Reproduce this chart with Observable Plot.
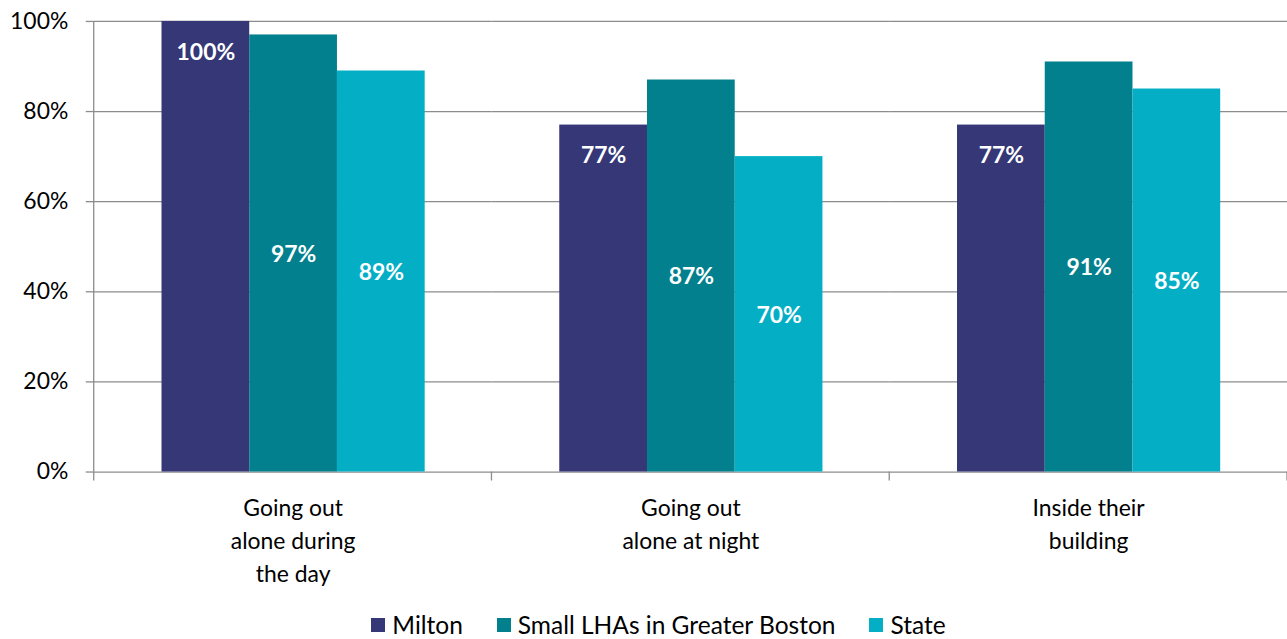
<!DOCTYPE html>
<html><head><meta charset="utf-8">
<script src="https://cdn.jsdelivr.net/npm/d3@7"></script>
<script src="https://cdn.jsdelivr.net/npm/@observablehq/plot@0.6"></script>
<style>
html,body{margin:0;padding:0;background:#fff;overflow:hidden;font-family:Lato,"Open Sans",sans-serif;}
#legend{display:flex;justify-content:center;align-items:center;font-size:24.5px;line-height:22px;height:22px;padding-top:4px;color:#000;margin-left:30px;}
.item{display:flex;align-items:center;margin:0 17px;}
.sw{width:14px;height:14px;margin-right:7px;display:inline-block;}
</style></head><body><div id="chart"></div><div id="legend"></div>
<script>
const categories = ["Going out alone during the day","Going out alone at night","Inside their building"];
const categoryLabels = ["Going out\nalone during\nthe day","Going out\nalone at night","Inside their\nbuilding"];
const series = ["Milton","Small LHAs in Greater Boston","State"];
const colors = ["#353776","#02808E","#04AFC6"];
const milton = [100,77,77];
const smallLHAs = [97,87,91];
const state = [89,70,85];
const yTicks = [0,20,40,60,80,100];

const seriesValues = [milton, smallLHAs, state];
const rows = categories.flatMap((c,i)=> series.map((s,j)=>({category:c, series:s, value:seriesValues[j][i]})));

const gridColor = "#8c8c8c";
const chart = Plot.plot({
  width: 1291, height: 612, marginLeft: 93, marginRight: 0, marginTop: 21, marginBottom: 139,
  style: {fontFamily: "Lato, 'Open Sans', sans-serif", fontSize: "22px", color: "#000", background: "#fff", overflow: "visible"},
  fx: {domain: categories, padding: 0, label: null, axis: null},
  x: {domain: series, axis: null, paddingInner: 0, paddingOuter: 0.75},
  y: {domain: [0,100], axis: null},
  color: {domain: series, range: colors},
  marks: [
    Plot.gridY(yTicks, {stroke: gridColor, strokeOpacity: 1, strokeWidth: 1.3}),
    Plot.barY(rows, {fx: "category", x: "series", y: "value", fill: "series"}),
    Plot.text(rows.filter(d => d.series === series[0]), {fx: "category", x: "series", y: "value", text: d => d.value + "%", dy: 31, fill: "white", fontWeight: "bold", fontSize: 23}),
    Plot.text(rows.filter(d => d.series !== series[0]), {fx: "category", x: "series", y: d => d.value / 2, text: d => d.value + "%", dy: 1, fill: "white", fontWeight: "bold", fontSize: 23}),
    Plot.axisY({ticks: yTicks, tickFormat: d => d + "%", tickSize: 8, tickPadding: 18, stroke: gridColor, strokeWidth: 1.3, fontSize: 23, label: null}),
    Plot.axisFx({anchor: "bottom", tickFormat: d => categoryLabels[categories.indexOf(d)], tickSize: 0, tickPadding: 20, lineHeight: 1.45, fontSize: 23, label: null})
  ]
});

// axis line and category boundary ticks from the plot's own scales
const fxs = chart.scale("fx");
const ys = chart.scale("y");
const g = d3.select(chart).append("g").attr("stroke", gridColor).attr("stroke-width", 1.3);
const y0 = ys.apply(0), y1 = ys.apply(100);
const firstLeft = fxs.apply(categories[0]);
g.append("line").attr("x1", firstLeft).attr("x2", firstLeft).attr("y1", y1).attr("y2", y0);
const bounds = categories.map(c => fxs.apply(c)).concat([fxs.apply(categories[categories.length-1]) + fxs.bandwidth]);
bounds.forEach(b => g.append("line").attr("x1", b).attr("x2", b).attr("y1", y0).attr("y2", y0 + 9));

document.getElementById("chart").appendChild(chart);

const legend = document.getElementById("legend");
series.forEach((s,i)=>{
  const it = document.createElement("span"); it.className = "item";
  const sw = document.createElement("span"); sw.className = "sw"; sw.style.background = colors[i];
  it.appendChild(sw); it.appendChild(document.createTextNode(s));
  legend.appendChild(it);
});
</script>
</body></html>
